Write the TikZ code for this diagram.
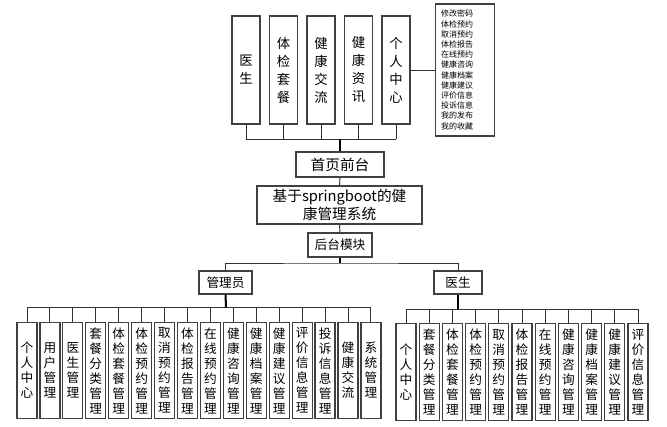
\documentclass[tikz,border=0pt]{standalone}
\usepackage{fontspec}
\setmainfont{Noto Sans CJK SC}
\XeTeXlinebreaklocale "zh"
\XeTeXlinebreakskip = 0pt plus 1pt
\tikzset{
    box/.style={draw=black!75, line width=0.9pt, fill=white, inner sep=0pt},
    topcol/.style={box, minimum width=21pt, minimum height=81pt, text width=11pt, align=center, font=\fontsize{10}{13.5}\selectfont},
    col/.style={box, minimum width=15pt, minimum height=72.5pt, text width=10pt, align=center, font=\fontsize{9.5}{11.25}\selectfont},
    wire/.style={black!80, line width=0.7pt},
    trunk/.style={black, line width=1.5pt}
}
\begin{document}
\begin{tikzpicture}[x=0.75pt, y=-0.75pt]
\useasboundingbox (0,0) rectangle (667,426);

% front end
\foreach \t [count=\i] in {医生,体检套餐,健康交流,健康资讯,个人中心}
{
    \node[topcol] (t\i) at ({246+37.5*(\i-1)},70) {\t};
}
\node[box, minimum width=44.25pt, minimum height=99pt, text width=36pt, inner xsep=4pt, align=left,
      font=\fontsize{6}{7.65}\selectfont, anchor=west] (note) at (435,70)
      {修改密码\\体检预约\\取消预约\\体检报告\\在线预约\\健康咨询\\健康档案\\健康建议\\评价信息\\投诉信息\\我的发布\\我的收藏};
\draw[wire] (t5.east)--(note.west);

\node[box, minimum width=66pt, minimum height=18.75pt, font=\fontsize{11}{13}\selectfont] (front) at (340,164.5) {首页前台};
\node[box, minimum width=123.75pt, minimum height=28.5pt, align=center, font=\fontsize{11}{13.5}\selectfont] (sys) at (339.5,205) {基于springboot的健\\康管理系统};
\node[box, minimum width=48pt, minimum height=18pt, font=\fontsize{9.5}{11}\selectfont] (back) at (340,245) {后台模块};

\coordinate (topbus) at (340,139);
\foreach \i in {1,...,5}
{
    \draw[wire] (t\i.south)--(t\i.south |- topbus);
}
\draw[wire] (t1.south |- topbus)--(t5.south |- topbus);
\draw[trunk] (topbus)--(front.north);
\draw[wire] (front.south)--(sys.north);
\draw[wire] (sys.south)--(back.north);

% back end
\node[box, minimum width=39.75pt, minimum height=17.25pt, font=\fontsize{9.5}{11}\selectfont] (admin) at (225.5,282.5) {管理员};
\node[box, minimum width=36pt, minimum height=17.25pt, font=\fontsize{9.5}{11}\selectfont] (doc) at (458,282.5) {医生};
\coordinate (midbus) at (340,263);
\draw[trunk] (back.south)--(midbus);
\draw[wire] (admin.north)|-(midbus)-|(doc.north);

\coordinate (abus) at (226,307);
\foreach \t [count=\i from 0] in {个人中心,用户管理,医生管理,套餐分类管理,体检套餐管理,体检预约管理,取消预约管理,体检报告管理,在线预约管理,健康咨询管理,健康档案管理,健康建议管理,评价信息管理,投诉信息管理,健康交流,系统管理}
{
    \node[col] (a\i) at ({27+22.93*\i},370.5) {\t};
    \draw[wire] (a\i.north)--(a\i.north |- abus);
}
\draw[wire] (a0.north |- abus)--(a15.north |- abus);
\draw[trunk] (admin.south)--(abus);

\coordinate (dbus) at (458,309);
\foreach \t [count=\i from 0] in {个人中心,套餐分类管理,体检套餐管理,体检预约管理,取消预约管理,体检报告管理,在线预约管理,健康咨询管理,健康档案管理,健康建议管理,评价信息管理}
{
    \node[col] (d\i) at ({406+23.2*\i},372) {\t};
    \draw[wire] (d\i.north)--(d\i.north |- dbus);
}
\draw[wire] (d0.north |- dbus)--(d10.north |- dbus);
\draw[trunk] (doc.south)--(dbus);

\end{tikzpicture}
\end{document}
